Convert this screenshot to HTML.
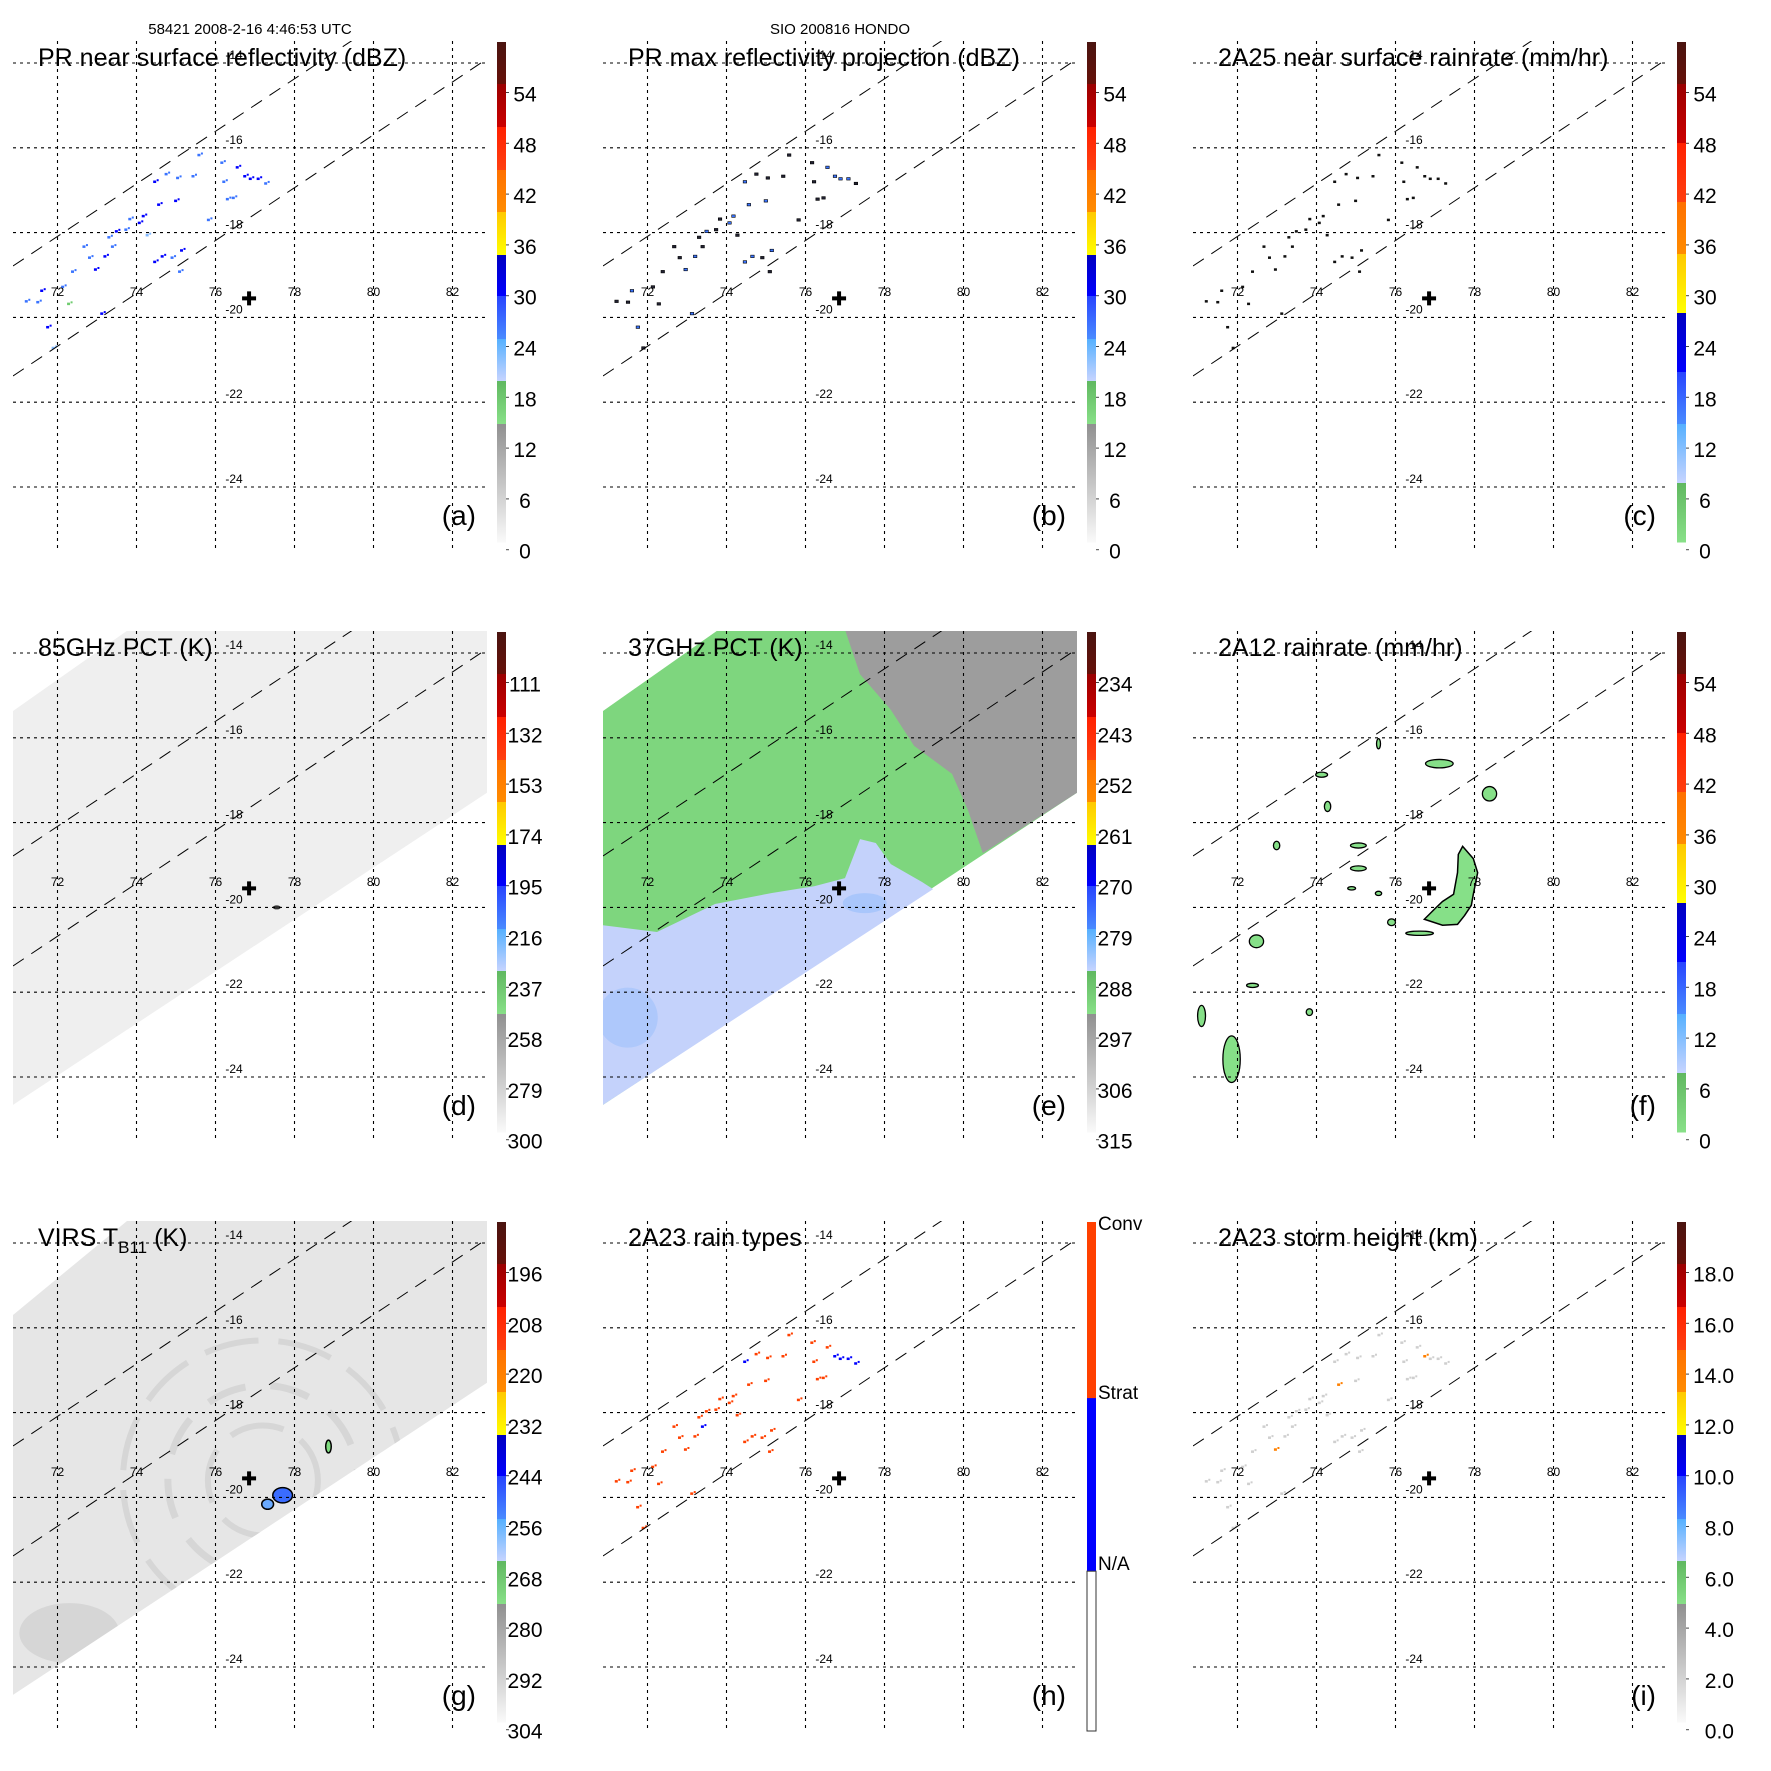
<!DOCTYPE html>
<html><head><meta charset="utf-8">
<style>
html,body{margin:0;padding:0;background:#fff;}
svg{display:block;font-family:"Liberation Sans",Arial,sans-serif;}
</style></head>
<body>
<svg id="fig" width="1771" height="1771" viewBox="0 0 1771 1771" xmlns="http://www.w3.org/2000/svg">
<text x="250" y="34" font-size="15" text-anchor="middle">58421 2008-2-16 4:46:53 UTC</text>
<text x="840" y="34" font-size="15" text-anchor="middle">SIO 200816 HONDO</text>
</svg>
<script>
// ---------- data ----------
const lonTicks = [72,74,76,78,80,82];
const latTicks = [-14,-16,-18,-20,-22,-24];
const stormCenter = [76.85,-19.55];
const labelsA = ['54','48','42','36','30','24','18','12','6','0'];
const labelsC = ['54','48','42','36','30','24','18','12','6','0'];
const labelsD = ['111','132','153','174','195','216','237','258','279','300'];
const labelsE = ['234','243','252','261','270','279','288','297','306','315'];
const labelsF = ['54','48','42','36','30','24','18','12','6','0'];
const labelsG = ['196','208','220','232','244','256','268','280','292','304'];
const labelsI = ['18.0','16.0','14.0','12.0','10.0','8.0','6.0','4.0','2.0','0.0'];
// PR pixels (lon, lat)
const prLon = [75.58,76.16,76.55,76.74,76.88,77.08,77.27,76.21,76.30,76.45,75.04,74.46,74.56,74.17,74.07,73.83,73.49,73.30,73.39,73.20,72.81,72.96,72.67,72.38,71.60,71.21,71.50,71.75,71.89,72.13,73.12,74.46,74.65,74.90,75.14,75.09,75.82,74.99,74.75,75.43,73.73,74.27,72.28];
const prLat = [-16.17,-16.35,-16.46,-16.67,-16.73,-16.73,-16.84,-16.80,-17.21,-17.18,-16.71,-16.80,-17.34,-17.61,-17.77,-17.68,-17.97,-18.11,-18.33,-18.56,-18.59,-18.87,-18.33,-18.92,-19.37,-19.62,-19.64,-20.23,-20.72,-19.28,-19.91,-18.69,-18.56,-18.59,-18.42,-18.92,-17.70,-17.25,-16.62,-16.67,-17.93,-18.06,-19.68];
const prDbz = [26,24,30,34,32,31,28,25,29,27,26,30,33,31,32,25,30,28,27,31,26,34,24,29,30,27,26,31,22,25,30,32,30,28,31,29,26,31,25,24,27,20,18];
// 2A12 rain blobs
const mainBlobLon = [77.70,77.97,78.08,77.97,77.92,77.75,77.57,77.19,76.73,77.01,77.19,77.47,77.57,77.59];
const mainBlobLat = [-18.56,-18.85,-19.18,-19.69,-19.95,-20.19,-20.40,-20.42,-20.28,-20.02,-19.86,-19.69,-19.18,-18.75];
const blobLon = [77.11,78.38,72.48,71.85,71.09,75.06,75.06,74.28,74.13,72.99,72.38,73.82,76.61,75.90,75.57,74.89,75.57];
const blobLat = [-16.61,-17.32,-20.80,-23.58,-22.56,-18.54,-19.08,-17.62,-16.87,-18.54,-21.84,-22.47,-20.61,-20.35,-19.67,-19.55,-16.14];
const blobRLon = [0.35,0.18,0.18,0.22,0.1,0.2,0.2,0.08,0.15,0.08,0.15,0.08,0.35,0.1,0.08,0.1,0.05];
const blobRLat = [0.1,0.17,0.15,0.55,0.25,0.06,0.06,0.12,0.06,0.1,0.05,0.08,0.05,0.08,0.05,0.04,0.12];
// VIRS cold cores
const coreLon = [77.70,77.32,78.86];
const coreLat = [-19.95,-20.16,-18.80];
const coreRLon = [0.25,0.15,0.07];
const coreRLat = [0.18,0.12,0.15];
const coreColor = ['#3a6cff','#6aaaff','#80dd80'];

// ---------- geometry ----------
const NS='http://www.w3.org/2000/svg';
const STEP=590;
const X0=13,X1=487,Y0=41,Y1=550;
function xOf(lon){return 57.5+(lon-72)*39.5;}
function yOf(lat){return 63+(-14-lat)*42.4;}
function el(tag,attrs,parent){const e=document.createElementNS(NS,tag);for(const k in attrs)e.setAttribute(k,attrs[k]);if(parent)parent.appendChild(e);return e;}
const svg=document.getElementById('fig');
const defs=el('defs',{},svg);

const bandsA=[[0,.084,'#4a1410','#661008'],[.084,.17,'#9a0000','#cc0000'],[.17,.256,'#ff2000','#ff4010'],[.256,.34,'#ff7000','#ff8c00'],[.34,.426,'#ffc800','#ffff00'],[.426,.508,'#0000c0','#0000ff'],[.508,.594,'#2844ff','#4a8cff'],[.594,.678,'#55b0ff','#c8d4ff'],[.678,.764,'#60b860','#88e088'],[.764,1,'#909090','#fafafa']];
const bandsC=[[0,.084,'#4a1410','#661008'],[.084,.202,'#9a0000','#cc0000'],[.202,.32,'#ff2000','#ff4010'],[.32,.424,'#ff7000','#ff8c00'],[.424,.542,'#ffc800','#ffff00'],[.542,.66,'#0000c0','#0000ff'],[.66,.764,'#2844ff','#4a8cff'],[.764,.882,'#55b0ff','#c8d4ff'],[.882,1,'#60b860','#88e088']];
const bandsH=[[0,.346,'#ff4000','#ff4000'],[.346,.686,'#0000ff','#0000ff'],[.686,1,'#ffffff','#ffffff']];

let gid=0;
function panel(col,row,opt){
  const g=el('g',{transform:`translate(${col*STEP},${row*STEP})`},svg);
  
  
  const cid='clip'+(gid++);
  const cp=el('clipPath',{id:cid},defs);
  el('rect',{x:X0,y:Y0,width:X1-X0,height:Y1-Y0},cp);
  const plot=el('g',{'clip-path':`url(#${cid})`},g);
  
  
  if(opt.draw) opt.draw(plot);
  latTicks.forEach(lat=>{
    const l=el('line',{x1:X0,x2:X1,y1:yOf(lat),y2:yOf(lat),stroke:'#000','stroke-width':1.1,'stroke-dasharray':'3,4'},g);
    
    
    const t=el('text',{x:234,y:yOf(lat)-4,'font-size':12,'text-anchor':'middle'},g);
    t.textContent=String(lat);
    
    
  });
  lonTicks.forEach(lon=>{
    const l=el('line',{x1:xOf(lon),x2:xOf(lon),y1:Y0,y2:Y1,stroke:'#000','stroke-width':1.1,'stroke-dasharray':'3,4'},g);
    
    
    const t=el('text',{x:xOf(lon),y:296,'font-size':12,'text-anchor':'middle'},g);
    t.textContent=String(lon);
    
    
  });
  const sw=el('g',{'clip-path':`url(#${cid})`},g);
  [[266,-0.665],[376,-0.669]].forEach(([yl,s])=>{
    const l=el('line',{x1:X0,y1:yl,x2:X1,y2:yl+s*(X1-X0),stroke:'#000','stroke-width':1,'stroke-dasharray':'13,9'},sw);
    
    
  });
  const cx=xOf(stormCenter[0]),cy=yOf(stormCenter[1]);
  const cr=el('path',{d:`M${cx-7} ${cy}H${cx+7}M${cx} ${cy-7}V${cy+7}`,stroke:'#000','stroke-width':4},g);
  
  
  const tt=el('text',{x:38,y:66,'font-size':25},g);
  if(opt.titleHTML){tt.innerHTML=opt.titleHTML;} else tt.textContent=opt.title;
  
  
  const lt=el('text',{x:476,y:525,'font-size':28,'text-anchor':'end'},g);
  lt.textContent='('+opt.letter+')';
  
  
  const cb=el('g',{},g);
  
  
  const bx=497,bw=9,by=42,bh=opt.cbH||500;
  opt.bands.forEach((b,i)=>{
    const lgid='lg'+(gid++);
    const lg=el('linearGradient',{id:lgid,x1:0,y1:0,x2:0,y2:1},defs);
    el('stop',{offset:0,'stop-color':b[2]},lg);el('stop',{offset:1,'stop-color':b[3]},lg);
    const r=el('rect',{x:bx,y:by+b[0]*bh,width:bw,height:(b[1]-b[0])*bh+0.5,fill:`url(#${lgid})`},cb);
    
    
  });
  if(opt.hLabels){
    el('rect',{x:bx,y:by+0.686*bh,width:bw,height:0.314*bh,fill:'none',stroke:'#333','stroke-width':1},cb);
    opt.hLabels.forEach((s,i)=>{
      const t=el('text',{x:bx+bw+2,y:[43,212,383][i]+7,'font-size':19},cb);
      t.textContent=s;
      
      
    });
  } else {
    opt.labels.forEach((s,i)=>{
      const y=94.5+i*50.8;
      el('line',{x1:bx+bw,x2:bx+bw+3,y1:y-2,y2:y-2,stroke:'#444'},cb);
      const t=el('text',{x:opt.labelEnd?554:525,y:y+7,'font-size':21,'text-anchor':opt.labelEnd?'end':'middle'},cb);
      t.textContent=s;
      
      
    });
  }
}

const swathLon=[70.87,73.8,82.9,82.9,70.87];
function swathPoly(p,fill,topLat){
  const swathLat=[topLat,-13.45,-13.45,-17.28,-24.66];
  const s=swathLon.map((lo,i)=>xOf(lo)+','+yOf(swathLat[i])).join(' ');
  const e=el('polygon',{points:s,fill:fill},p);
  
  
  return s;
}
const colorForDbz=v=>v>=36?'#ffe000':v>=30?'#0000ff':v>=24?'#3a74ff':v>=20?'#80b8ff':'#70cc70';
function prDots(p,style){
  prLon.forEach((lon,i)=>{
    const x=xOf(lon),y=yOf(prLat[i]);
    let fill,stroke='none';
    if(style==='a'){fill=colorForDbz(prDbz[i]);}
    else if(style==='b'){fill=prDbz[i]>=30?'#3a74ff':'#223';stroke='#000';}
    else if(style==='c'){fill='#111';}
    else if(style==='h'){fill=(i>=3&&i<=6)||i===11||i===18?'#0000ff':'#ff4000';}
    else {fill=prDbz[i]>=33?'#ff8000':'#cfcfcf';}
    const r=el('rect',{x:x-1.5,y:y-1.2,width:style==='b'?3.5:3,height:2.5,fill:fill,stroke:stroke,'stroke-width':0.6},p);
    
    
    if(style!=='c' && style!=='b'){
      const r2=el('rect',{x:x+2,y:y-2.5,width:2,height:2,fill:fill},p);
      
      
    }
  });
}

panel(0,0,{letter:'a',title:'PR near surface reflectivity (dBZ)',bands:bandsA,labels:labelsA,draw:p=>prDots(p,'a')});
panel(1,0,{letter:'b',title:'PR max reflectivity projection (dBZ)',bands:bandsA,labels:labelsA,draw:p=>prDots(p,'b')});
panel(2,0,{letter:'c',title:'2A25 near surface rainrate (mm/hr)',bands:bandsC,labels:labelsC,draw:p=>prDots(p,'c')});
panel(0,1,{letter:'d',title:'85GHz PCT (K)',bands:bandsA,labels:labelsD,draw:p=>{
  swathPoly(p,'#efefef',-15.37);
  const e=el('ellipse',{cx:xOf(77.55),cy:yOf(-20.0),rx:4,ry:2,fill:'#333'},p);
  
  
}});
const grayLon=[77.0,82.9,82.9,80.49,80.11,79.71,78.75,78.16,77.38];
const grayLat=[-13.45,-13.45,-17.28,-18.72,-17.70,-16.85,-16.19,-15.34,-14.5];
const blueLon=[70.87,72.24,73.71,75.15,76.22,77.0,77.38,77.78,78.16,78.95,79.23,70.87];
const blueLat=[-20.42,-20.58,-19.92,-19.66,-19.5,-19.31,-18.39,-18.48,-18.98,-19.40,-19.57,-24.66];
panel(1,1,{letter:'e',title:'37GHz PCT (K)',bands:bandsA,labels:labelsE,draw:p=>{
  swathPoly(p,'#7ed67e',-15.37);
  const gp=el('polygon',{points:grayLon.map((lo,i)=>xOf(lo)+','+yOf(grayLat[i])).join(' '),fill:'#9d9d9d'},p);
  
  
  const bp=el('polygon',{points:blueLon.map((lo,i)=>xOf(lo)+','+yOf(blueLat[i])).join(' '),fill:'#c4d2fb'},p);
  
  
  const c=el('ellipse',{cx:xOf(71.5),cy:yOf(-22.6),rx:30,ry:30,fill:'#a9c6fb',opacity:0.8},p);
  
  
  const c2=el('ellipse',{cx:xOf(77.5),cy:yOf(-19.9),rx:22,ry:10,fill:'#a9c6fb'},p);
  
  
}});
panel(2,1,{letter:'f',title:'2A12 rainrate (mm/hr)',bands:bandsC,labels:labelsF,draw:p=>{
  const m=el('polygon',{points:mainBlobLon.map((lo,i)=>xOf(lo)+','+yOf(mainBlobLat[i])).join(' '),fill:'#86e088',stroke:'#000','stroke-width':1.5},p);
  
  
  blobLon.forEach((lo,i)=>{
    const e=el('ellipse',{cx:xOf(lo),cy:yOf(blobLat[i]),rx:blobRLon[i]*39.5,ry:blobRLat[i]*42.4,fill:'#86e088',stroke:'#000','stroke-width':1.3},p);
    
    
  });
}});
panel(0,2,{letter:'g',titleHTML:'VIRS T<tspan font-size="17" dy="7">B11</tspan><tspan dy="-7"> (K)</tspan>',bands:bandsA,labels:labelsG,draw:p=>{
  const s=swathPoly(p,'#e6e6e6',-15.7);
  const cid='gclip'+(gid++);
  const cp=el('clipPath',{id:cid},defs);el('polygon',{points:s},cp);
  const inner=el('g',{'clip-path':`url(#${cid})`},p);
  const cx=xOf(77.2),cy=yOf(-19.6);
  [[55,6],[95,7],[140,6]].forEach(([r,w],i)=>{
    const a=el('circle',{cx:cx,cy:cy,r:r,fill:'none',stroke:'#d2d2d2','stroke-width':w,'stroke-dasharray':(i%2?'40,25':'55,20'),opacity:0.8},inner);
    
    
  });
  const ll=el('ellipse',{cx:xOf(72.3),cy:yOf(-23.2),rx:50,ry:30,fill:'#cccccc',opacity:0.6},inner);
  
  
  coreLon.forEach((lo,i)=>{
    const e=el('ellipse',{cx:xOf(lo),cy:yOf(coreLat[i]),rx:coreRLon[i]*39.5,ry:coreRLat[i]*42.4,fill:coreColor[i],stroke:'#000','stroke-width':1.5},p);
    
    
  });
}});
panel(1,2,{letter:'h',title:'2A23 rain types',bands:bandsH,cbH:509,hLabels:['Conv','Strat','N/A'],draw:p=>prDots(p,'h')});
panel(2,2,{letter:'i',title:'2A23 storm height (km)',bands:bandsA,labels:labelsI,labelEnd:true,draw:p=>prDots(p,'i')});
</script>
</body></html>
